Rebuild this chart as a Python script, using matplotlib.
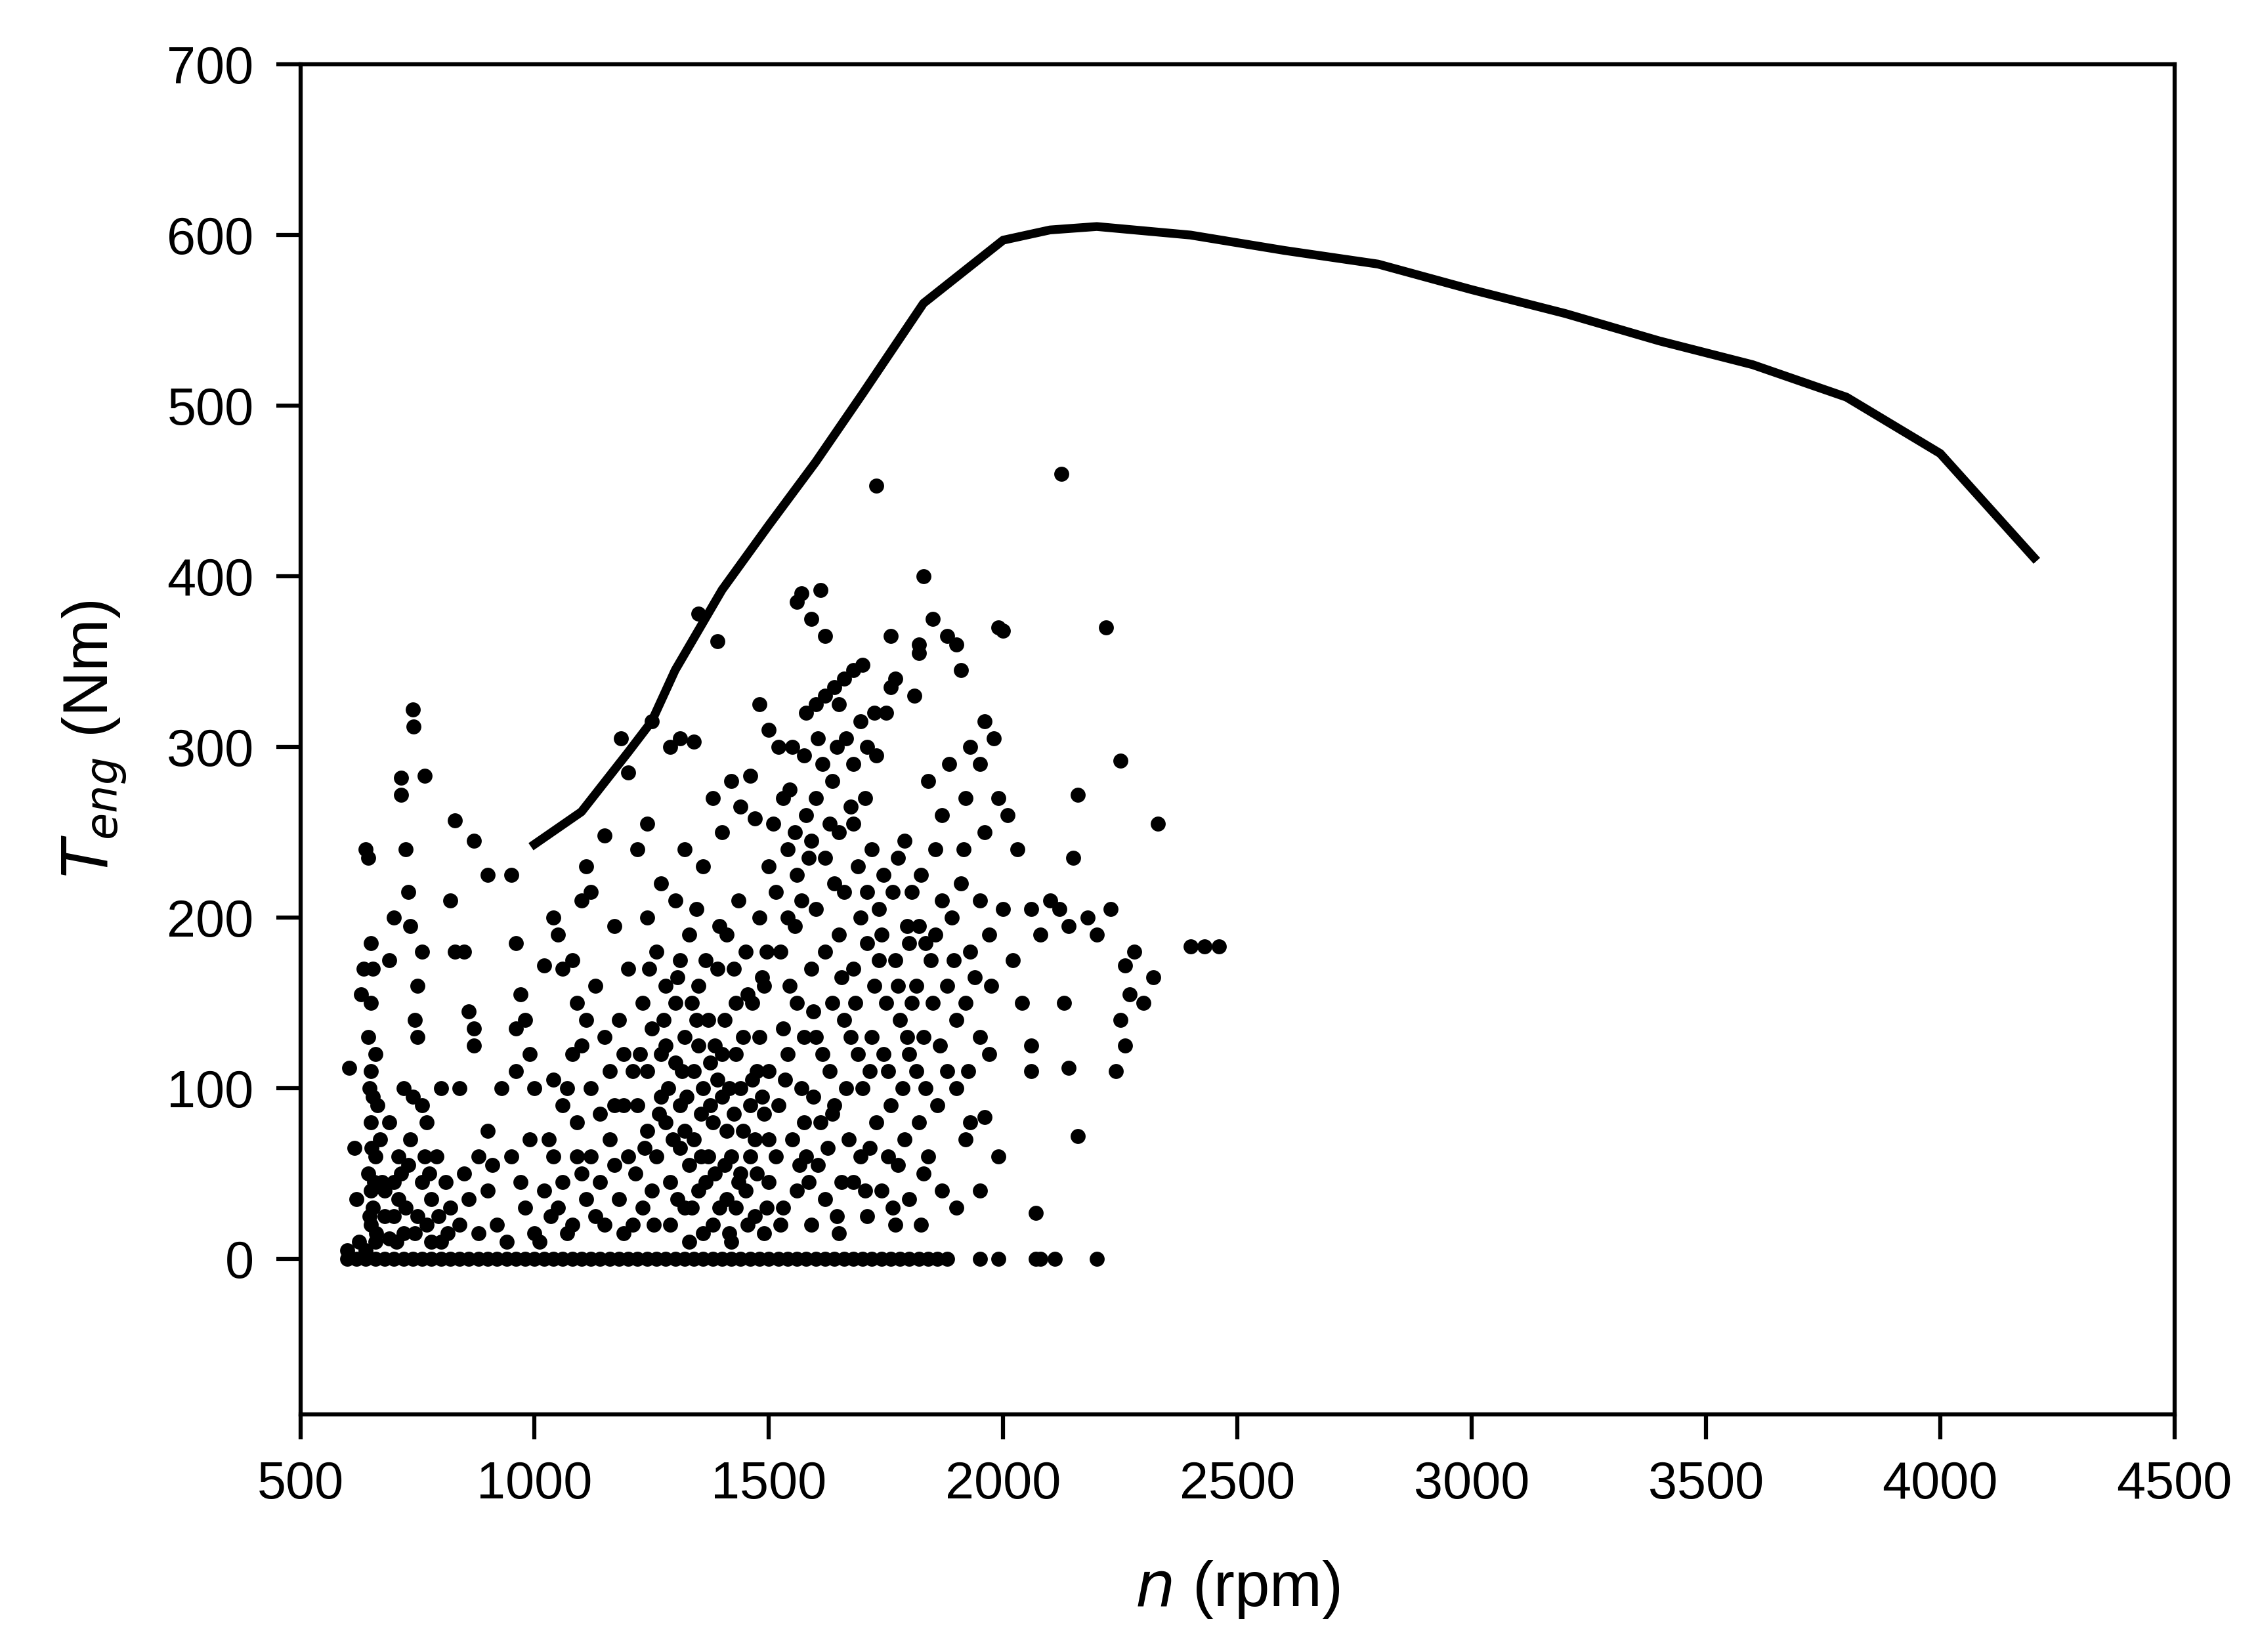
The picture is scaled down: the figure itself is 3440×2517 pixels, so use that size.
import matplotlib
matplotlib.use("Agg")
import matplotlib.pyplot as plt

plt.rcParams['font.family'] = ['Liberation Sans', 'DejaVu Sans']

curve_n = [1000,1100,1200,1250,1300,1400,1500,1600,1700,1830,2000,2100,2200,2400,2600,2800,3000,3200,3400,3600,3800,4000,4200]
curve_T = [243,262,297,315,345,392,430,467,507,560,597,603,605,600,591,583,568,554,538,524,505,472,411]

pts_low = [(640,240),(645,235),(650,185),(655,170),(650,150),(645,130),(650,110),(655,95),(650,80),(660,60),(645,50),(650,40),(655,30),(650,20),(660,10),(640,5),(605,112),(615,65),(620,35),(630,155),(635,170),(625,10),(600,5),
(740,322),(742,312),(715,282),(715,272),(765,283),(725,240),(730,215),(760,180),(750,160),(745,140),(750,130),(720,100),(740,95),(760,90),(700,200),(735,195),(690,175),(710,60),(730,55),(760,45),(780,35),(700,25),(720,15),(770,20),(800,10),(680,40),(690,80),(770,80),(800,100),(790,60),(820,30),(830,257),(870,245),(820,210),(850,180),(830,180),(860,145),(870,135),(870,125),(900,225),(950,225),(930,100),(960,110),(900,75),(880,60),(850,50),(840,100),(900,40),(950,60),(960,185),(970,155),(960,135),(980,140),(990,120),(1000,100),(920,20),(980,30),(1000,15),
(660,120),(665,90),(670,70),(675,45),(680,25),(690,12),(700,45),(710,35),(725,30),(735,70),(750,25),(765,60),(780,10),(810,45),(840,20),(860,35),(880,15),(910,55),(940,10),(970,45),(990,70),
(648,100),(652,65),(648,25),(658,45),(662,15),(705,10),(715,50),(745,15),(775,50),(795,25),(815,15)]

pts_mid = [(1020,172),(1040,200),(1050,190),(1060,170),(1080,175),(1100,210),(1110,230),(1120,215),(1150,248),(1170,195),(1185,305),(1200,285),(1220,240),(1240,255),(1250,315),(1030,70),(1040,60),(1060,90),(1070,100),(1080,120),(1090,80),(1100,125),(1110,140),(1130,160),(1150,130),(1160,110),(1180,140),(1190,90),(1200,170),(1020,40),(1050,30),(1080,20),(1100,50),(1120,60),(1140,45),(1160,70),(1180,35),(1200,60),(1010,10),(1070,15),(1130,25),(1190,15),(1210,110),(1230,150),(1220,90),(1240,200),(1260,180),(1270,120),(1280,160),(1260,60),(1250,40),(1280,80),(1230,30),
(1290,300),(1310,305),(1340,303),(1350,378),(1390,362),(1320,240),(1300,210),(1330,190),(1360,230),(1380,270),(1400,250),(1420,280),(1440,265),(1460,283),(1470,258),(1300,150),(1320,130),(1350,160),(1370,140),(1390,170),(1410,190),(1430,150),(1450,180),(1480,200),(1500,230),(1310,90),(1340,70),(1360,100),(1380,80),(1400,120),(1420,60),(1440,100),(1460,90),(1480,130),(1500,110),(1320,30),(1350,40),(1380,20),(1410,35),(1440,50),(1470,25),(1500,45),(1330,10),(1420,10),(1490,15),
(1040,105),(1090,150),(1120,100),(1140,85),(1170,55),(1210,20),(1240,75),(1270,95),(1290,45),(1300,115),(1330,55),(1350,125),(1370,60),(1390,105),(1410,75),(1430,120),(1450,40),(1470,70),(1490,85),(1250,135),(1280,125),(1310,65),(1340,110),(1360,15),(1400,95),(1430,30),(1460,60),(1490,160),(1270,220),(1310,175),(1345,205),(1375,115),(1405,140),(1435,210),(1465,150),(1495,180),(1240,110),(1290,20),(1320,75),(1355,85),(1385,50),(1415,15),(1445,75),(1475,110),(1500,70),
(1215,50),(1235,65),(1255,20),(1265,85),(1285,100),(1295,70),(1305,35),(1315,110),(1325,95),(1335,30),(1345,140),(1355,60),(1365,45),(1375,90),(1385,125),(1395,30),(1405,55),(1415,100),(1425,85),(1435,45),(1445,130),(1455,20),(1465,105),(1475,50),(1485,95),(1495,30),(1225,120),(1245,170),(1275,140),(1305,165),(1335,150),(1365,175),(1395,195),(1425,170),(1455,155),(1485,165),(1150,20),(1170,90),(1190,120),(1110,35),(1090,60),(1060,45),(1035,25)]

pts_high = [(1480,325),(1500,310),(1520,300),(1510,255),(1530,270),(1540,240),(1550,300),(1560,385),(1570,390),(1590,375),(1610,392),(1620,365),(1640,335),(1660,340),(1680,345),(1700,348),(1730,453),(1580,320),(1600,325),(1620,330),(1650,325),(1600,270),(1630,255),(1580,260),(1560,225),(1540,200),(1570,210),(1600,205),(1640,220),(1660,215),(1690,230),(1720,240),(1750,320),(1760,335),(1730,295),(1710,300),(1680,290),(1760,365),(1770,340),(1790,245),(1810,330),(1820,355),(1830,400),(1820,360),(1850,375),(1880,365),(1840,280),(1870,260),(1900,360),(1910,345),(1930,300),(1950,290),(1960,315),(1980,305),(1990,370),(2000,368),(1920,270),(1960,250),(1990,270),(2010,260),(2030,240),(1870,210),(1890,200),(1910,220),(1930,180),(1950,210),(1970,190),(2000,205),(1850,150),(1880,160),(1900,140),(1920,150),(1950,130),(1970,120),(1900,100),(1930,80),(1960,83),(1920,70),(1880,110),(1860,90),(1840,60),(1870,40),(1900,30),(1950,40),(1990,60),
(1560,150),(1590,170),(1620,180),(1650,190),(1680,170),(1710,185),(1740,190),(1770,175),(1800,185),(1820,195),(1540,120),(1570,100),(1600,130),(1630,110),(1660,140),(1690,120),(1720,130),(1750,150),(1780,140),(1800,120),(1830,130),(1550,70),(1580,60),(1610,80),(1640,90),(1670,70),(1700,100),(1730,80),(1760,90),(1790,70),(1820,80),(1530,30),(1560,40),(1590,20),(1620,35),(1650,15),(1680,45),(1710,25),(1740,40),(1770,20),(1800,35),(1830,50),
(1520,90),(1545,160),(1575,130),(1605,55),(1635,150),(1665,100),(1695,60),(1725,160),(1755,110),(1785,100),(1815,160),(1845,175),(1525,180),(1555,250),(1585,235),(1615,290),(1645,300),(1675,265),(1705,270),(1735,205),(1765,215),(1795,195),(1825,225),(1855,240),(1885,290),(1915,240),(1940,165),(1975,160),(1530,135),(1565,55),(1595,95),(1625,65),(1655,45),(1685,150),(1715,65),(1745,120),(1775,55),(1805,150),(1835,100),(1865,125),(1895,175),(1925,110),
(1515,60),(1535,105),(1555,195),(1575,80),(1595,145),(1615,120),(1635,85),(1655,165),(1675,130),(1695,200),(1715,110),(1735,175),(1755,60),(1775,160),(1795,130),(1815,110),(1835,185),(1855,190),(1515,215),(1545,275),(1575,295),(1605,305),(1635,280),(1665,305),(1695,315),(1725,320),(1590,245),(1620,235),(1650,250),(1680,255),(1710,215),(1745,225),(1775,235),(1805,215),(1525,20),(1585,45),(1645,25),(1705,40),(1765,30),(1825,20),
(2060,205),(2080,190),(2100,210),(2120,205),(2140,195),(2160,272),(2150,235),(2180,200),(2200,190),(2220,370),(2230,205),(2250,292),(2260,172),(2280,180),(2300,150),(2330,255),(2320,165),(2250,140),(2240,110),(2130,150),(2140,112),(2160,72),(2060,125),(2060,110),(2070,27),(2040,150),(2020,175),(2400,183),(2430,183),(2460,183),(2125,460),(2260,125),(2270,155)]

zero_n = [600,620,640,660,680,700,720,740,760,780,800,820,840,860,880,900,920,940,960,980,1000,1020,1040,1060,1080,1100,1120,1140,1160,1180,1200,1220,1240,1260,1280,1300,1320,1340,1360,1380,1400,1420,1440,1460,1480,1500,1520,1540,1560,1580,1600,1620,1640,1660,1680,1700,1720,1740,1760,1780,1800,1820,1840,1860,1880,1950,1990,2070,2080,2110,2200]

fig = plt.figure(figsize=(11.4667, 8.39), dpi=300)
ax = fig.add_axes([0.133, 0.144, 0.830, 0.817])

for pts in (pts_low, pts_mid, pts_high):
    xs = [p[0] for p in pts]; ys = [p[1] for p in pts]
    ax.scatter(xs, ys, s=30, color='black', linewidths=0, zorder=2)
ax.scatter(zero_n, [0]*len(zero_n), s=30, color='black', linewidths=0, zorder=2)
ax.plot(curve_n, curve_T, color='black', lw=3.2, zorder=3)

ax.set_xlim(500, 4500)
ax.set_ylim(-91, 700)
ax.set_xticks(range(500, 4501, 500))
ax.set_yticks(range(0, 701, 100))
ax.tick_params(direction='out', length=9, width=1.5, labelsize=19, pad=8)
for s in ax.spines.values():
    s.set_linewidth(1.5)
ax.set_xlabel(r'$\it{n}$ (rpm)', fontsize=23, labelpad=18)
ax.set_ylabel(r'$\it{T_{eng}}$ (Nm)', fontsize=23, labelpad=14)
fig.savefig('out.png', dpi=300)
